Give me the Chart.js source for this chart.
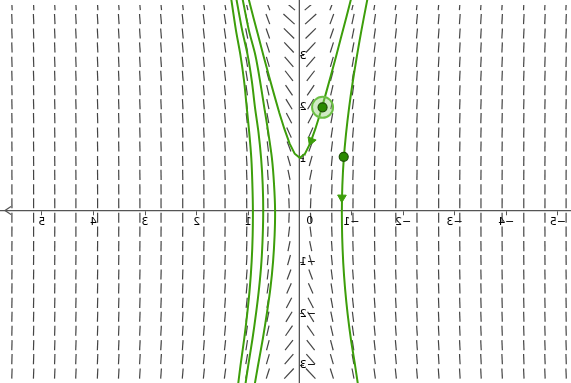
<!DOCTYPE html>
<html>
<head>
<meta charset="utf-8">
<script src="https://cdn.jsdelivr.net/npm/chart.js@4.4.1/dist/chart.umd.min.js"></script>
<style>
    html, body { margin: 0; padding: 0; background: #fff; }
    #wrap { width: 571px; height: 383px; position: relative; }
    /* the reference is a horizontally mirrored GeoGebra view */
    #wrap canvas { transform: scaleX(-1); }
</style>
</head>
<body>
<div id="wrap"><canvas id="chart"></canvas></div>
<script>
// -------------------------------------------------------------------------------------------------------------------------------
// Data
// -------------------------------------------------------------------------------------------------------------------------------

const xTicks = [-5, -4, -3, -2, -1, 1, 2, 3, 4, 5];
const yTicks = [-3, -2, -1, 1, 2, 3];

// slope field grid, and the field itself: dy/dx = fieldK * x / y
const fieldCols = [-5.16, -4.75, -4.34, -3.92, -3.51, -3.1, -2.69, -2.27, -1.86, -1.45, -1.03, -0.62, -0.21,
    0.21, 0.62, 1.03, 1.45, 1.86, 2.27, 2.69, 3.1, 3.51, 3.92, 4.34, 4.75, 5.16, 5.58];
const fieldRows = [-3.16, -2.88, -2.61, -2.33, -2.06, -1.79, -1.51, -1.24, -0.96, -0.69, -0.41, -0.14,
    0.14, 0.41, 0.69, 0.96, 1.24, 1.51, 1.79, 2.06, 2.33, 2.61, 2.88, 3.16, 3.43, 3.71, 3.98];
const fieldK = 16;

// solution through the vertex (0, 1)
const curveAX = [-1.0, -0.9, -0.8, -0.7, -0.6, -0.5, -0.4, -0.3, -0.2, -0.1, 0, 0.1, 0.2, 0.3, 0.4, 0.5, 0.6, 0.7, 0.8, 0.9, 1.0];
const curveAY = [4.13, 3.74, 3.36, 2.98, 2.61, 2.25, 1.9, 1.58, 1.3, 1.1, 1.02, 1.1, 1.3, 1.58, 1.9, 2.25, 2.61, 2.98, 3.36, 3.74, 4.13];

// the other solutions, read at these heights
const curveY = [4.1, 3.5, 3.0, 2.5, 2.0, 1.5, 1.0, 0.5, 0, -0.5, -1.0, -1.5, -2.0, -2.5, -3.0, -3.4];
const curveBX = [-1.31, -1.195, -1.107, -1.026, -0.955, -0.896, -0.851, -0.824, -0.814, -0.82, -0.84, -0.875, -0.925, -0.99, -1.07, -1.13];
const curveL1X = [1.11, 0.99, 0.86, 0.77, 0.69, 0.61, 0.54, 0.5, 0.48, 0.49, 0.52, 0.57, 0.64, 0.72, 0.81, 0.88];
const curveL2X = [1.23, 1.12, 1.01, 0.93, 0.87, 0.8, 0.75, 0.72, 0.71, 0.72, 0.745, 0.79, 0.85, 0.92, 1.0, 1.06];
const curveL3X = [1.33, 1.24, 1.15, 1.08, 1.03, 0.98, 0.94, 0.92, 0.91, 0.915, 0.935, 0.97, 1.02, 1.08, 1.15, 1.2];

const pointX = [-0.44, -0.85];
const pointY = [2.0, 1.04];

const arrowX = [-0.22, -0.815];
const arrowY = [1.35, 0.25];

// -------------------------------------------------------------------------------------------------------------------------------
// Helpers
// -------------------------------------------------------------------------------------------------------------------------------

const green = '#3d9e0b';
const axisColor = '#555';
const labelFont = { family: 'DejaVu Sans', size: 11 };

const toPoints = (xs, ys) => xs.map((x, i) => ({ x: x, y: ys[i] }));
const fieldAngle = (p) => Math.atan(fieldK * p.x / p.y);
const minusLabel = (v) => (v < 0 ? '\u2212' + Math.abs(v) : String(v));

// axes sit inside the plot, so their labels must not shrink it
const noPadding = (scale) => {
    scale.paddingLeft = 0;
    scale.paddingRight = 0;
    scale.paddingTop = 0;
    scale.paddingBottom = 0;
};

const fieldData = [];
fieldRows.forEach((y) => fieldCols.forEach((x) => fieldData.push({ x: x, y: y })));

function dashRadius(ctx) {
    const p = ctx.raw;
    const xs = ctx.chart.scales.x;
    const ys = ctx.chart.scales.y;
    if (!p || !xs || !ys) return 5;
    const cw = Math.abs(xs.getPixelForValue(fieldCols[1]) - xs.getPixelForValue(fieldCols[0]));
    const ch = Math.abs(ys.getPixelForValue(fieldRows[1]) - ys.getPixelForValue(fieldRows[0]));
    const a = fieldAngle(p);
    return 0.35 * Math.min(cw / Math.abs(Math.cos(a)), ch / Math.abs(Math.sin(a)));
}

// arrows follow the field, heading downwards
function arrowRotation(ctx) {
    const p = ctx.raw;
    if (!p) return 180;
    const m = fieldK * p.x / p.y;
    return Math.atan2(-1 / m, -1) * 180 / Math.PI;
}

const axisExtras = {
    id: 'axisExtras',
    afterDraw(chart) {
        const { ctx, chartArea, scales } = chart;
        const x0 = scales.x.getPixelForValue(0);
        const y0 = scales.y.getPixelForValue(0);
        ctx.save();
        ctx.strokeStyle = axisColor;
        ctx.lineWidth = 1.3;
        ctx.beginPath();
        ctx.moveTo(chartArea.right - 11, y0 - 4);
        ctx.lineTo(chartArea.right - 5, y0);
        ctx.lineTo(chartArea.right - 11, y0 + 4);
        ctx.stroke();
        ctx.fillStyle = '#000';
        ctx.font = labelFont.size + 'px "' + labelFont.family + '"';
        ctx.textAlign = 'center';
        ctx.textBaseline = 'top';
        ctx.fillText('0', x0 - 10, y0 + 5);
        ctx.restore();
    }
};

// -------------------------------------------------------------------------------------------------------------------------------
// Chart
// -------------------------------------------------------------------------------------------------------------------------------

new Chart(document.getElementById('chart'), {
    type: 'scatter',
    data: {
        datasets: [
            {
                data: toPoints(pointX, pointY),
                pointRadius: 4.5,
                pointBackgroundColor: '#2a8a00',
                pointBorderColor: '#1d4f05',
                pointBorderWidth: 1.2,
                order: 0
            },
            {
                data: toPoints(pointX.slice(0, 1), pointY.slice(0, 1)),
                pointRadius: 10.5,
                pointBackgroundColor: 'rgba(140, 205, 110, 0.4)',
                pointBorderColor: '#6cbf45',
                pointBorderWidth: 2,
                order: 1
            },
            {
                data: toPoints(arrowX, arrowY),
                pointStyle: 'triangle',
                pointRadius: 5,
                pointRotation: arrowRotation,
                pointBackgroundColor: green,
                pointBorderColor: green,
                pointBorderWidth: 1,
                order: 2
            },
            { data: toPoints(curveAX, curveAY), showLine: true, order: 3 },
            { data: toPoints(curveBX, curveY), showLine: true, tension: 0.3, order: 3 },
            { data: toPoints(curveL1X, curveY), showLine: true, tension: 0.3, order: 3 },
            { data: toPoints(curveL2X, curveY), showLine: true, tension: 0.3, order: 3 },
            { data: toPoints(curveL3X, curveY), showLine: true, tension: 0.3, order: 3 },
            {
                data: fieldData,
                pointStyle: 'line',
                pointRadius: dashRadius,
                pointRotation: (ctx) => (ctx.raw ? -fieldAngle(ctx.raw) * 180 / Math.PI : 90),
                pointBorderColor: 'rgba(35, 35, 35, 0.85)',
                pointBorderWidth: 1.2,
                clip: { left: 0, top: -5, right: 0, bottom: 0 },
                order: 5
            }
        ].map((ds) => (ds.showLine ? Object.assign({
            borderColor: green,
            borderWidth: 2,
            pointRadius: 0
        }, ds) : ds))
    },
    options: {
        responsive: true,
        maintainAspectRatio: false,
        animation: false,
        events: [],
        layout: { padding: 0, autoPadding: false },
        plugins: { legend: { display: false }, tooltip: { enabled: false } },
        scales: {
            x: {
                type: 'linear',
                min: -5.255,
                max: 5.811,
                position: { y: 0 },
                afterBuildTicks: (scale) => { scale.ticks = xTicks.map((v) => ({ value: v })); },
                afterFit: noPadding,
                ticks: { callback: minusLabel, color: '#000', font: labelFont, padding: 1, autoSkip: false, maxRotation: 0 },
                grid: { drawOnChartArea: false, drawTicks: true, tickLength: 4, color: axisColor, lineWidth: 1 },
                border: { color: axisColor, width: 1.3 }
            },
            y: {
                type: 'linear',
                min: -3.343,
                max: 4.079,
                position: { x: 0 },
                afterBuildTicks: (scale) => { scale.ticks = yTicks.map((v) => ({ value: v })); },
                afterFit: noPadding,
                ticks: { callback: minusLabel, color: '#000', font: labelFont, padding: 2, autoSkip: false },
                grid: { drawOnChartArea: false, drawTicks: true, tickLength: 4, color: axisColor, lineWidth: 1 },
                border: { color: axisColor, width: 1.3 }
            }
        }
    },
    plugins: [axisExtras]
});
</script>
</body>
</html>
